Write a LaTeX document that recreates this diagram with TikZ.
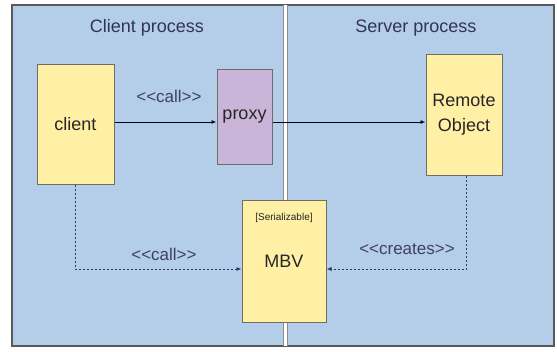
\documentclass[tikz,border=0pt]{standalone}
\usepackage{fontspec}
\setmainfont{Liberation Sans}
\usetikzlibrary{arrows.meta, positioning}
\definecolor{procblue}{RGB}{180,205,232}
\definecolor{boxyellow}{RGB}{255,240,165}
\definecolor{proxyviolet}{RGB}{200,181,216}
\definecolor{edgegray}{RGB}{110,110,100}

\begin{document}
\begin{tikzpicture}[
    x=1pt, y=-1pt,
    every node/.style={font=\fontsize{18}{20}\selectfont, text=black!85, align=center},
    obj/.style={draw=edgegray, line width=1pt, fill=boxyellow, inner sep=0pt},
    title/.style={font=\fontsize{18}{20}\selectfont, text=black!75!blue!60!gray},
    lbl/.style={font=\fontsize{17}{19}\selectfont, text=black!70!blue!50!gray},
    call/.style={draw=black!85!blue, line width=1pt, -{Latex[length=5pt, width=4pt]}},
    ref/.style={draw=black!60!blue!60!gray, line width=0.8pt, dash pattern=on 2pt off 2pt, -{Latex[length=5pt, width=4pt]}}
  ]
  \useasboundingbox (0,0) rectangle (557,351);
  \fill[white] (0,0) rectangle (557,351);
  \draw[fill=procblue, draw=black!65, line width=1.2pt] (12,5) rectangle (554,346);
  \draw[black!45, line width=5pt] (285.5,5) -- (285.5,346);
  \draw[white, line width=3pt] (285.5,5) -- (285.5,346);

  \node[title] (clientproc) at (147,28) {Client process};
  \node[title] (serverproc) at (416,28) {Server process};

  \node[obj, minimum width=77pt, minimum height=120pt] (client) at (75.5,124) {client};
  \node[obj, fill=proxyviolet, minimum width=55pt, minimum height=95pt] (proxy) at (244.5,116.5) {proxy};
  \node[obj, minimum width=76pt, minimum height=121pt] (remote) at (464,114.5) {Remote\\[5pt]Object};
  \node[obj, minimum width=84pt, minimum height=122pt] (mbv) at (284,261) {MBV};
  \node[font=\fontsize{10}{12}\selectfont, below=10pt of mbv.north] (mbvtag) {[Serializable]};

  \coordinate (clientturn) at (client.south |- 0,269);
  \coordinate (remoteturn) at ([xshift=2pt]remote.south |- 0,269);

  \draw[call] (client.east |- 0,122) -- (proxy.west |- 0,122);
  \draw[call] (proxy.east |- 0,122) -- (remote.west |- 0,122);
  \draw[ref] (client.south) -- (clientturn) -- (mbv.west |- clientturn);
  \draw[ref] ([xshift=2pt]remote.south) -- (remoteturn) -- (mbv.east |- remoteturn);

  \node[lbl] (calltop) at (169,96) {<{}<call>{}>};
  \node[lbl] (callbottom) at (164,254) {<{}<call>{}>};
  \node[lbl] (creates) at (407,249) {<{}<creates>{}>};
\end{tikzpicture}
\end{document}
